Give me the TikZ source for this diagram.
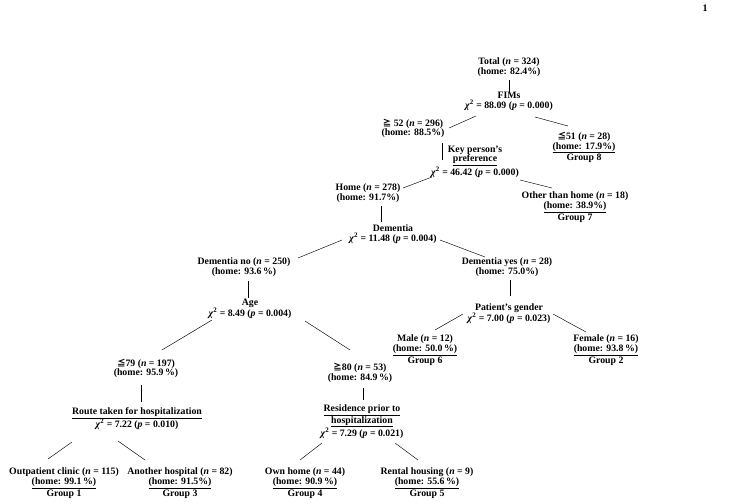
\documentclass[tikz,border=0pt]{standalone}
\usepackage{fontspec}
\setmainfont{Liberation Serif}
\newfontfamily\cjk{Noto Sans CJK JP}
\usetikzlibrary{calc}
\newcommand\myge{{\cjk\fontsize{8.5}{8.5}\selectfont ≧}}
\newcommand\myle{{\cjk\fontsize{8.5}{8.5}\selectfont ≦}}
\newcommand\chisq{\textit{χ}\textsuperscript{2}}
\newcommand\nn{\textit{n}}
\newcommand\pp{\textit{p}}
\tikzset{
  lab/.style={align=center, inner sep=0pt, font=\bfseries\fontsize{9.8}{9.8}\selectfont},
  edge/.style={line width=0.45pt, black}
}
\begin{document}
\begin{tikzpicture}[x=1pt,y=-1pt]
\useasboundingbox (0,0) rectangle (733,503);
\node[font=\bfseries\fontsize{10}{10}\selectfont, inner sep=0pt] (pg) at (705,8) {1};

\node[lab] (total) at (509,67.5) {Total (\nn{} = 324)\\(home: 82.4\%)};
\node[lab] (fims) at (509,101.5) {FIMs\\\chisq{} = 88.09 (\pp{} = 0.000)};
\node[lab] (n296) at (413,128.5) {\myge{} 52 (\nn{} = 296)\\(home: 88.5\%)};
\node[lab] (n28) at (584,147.5) {\myle51 (\nn{} = 28)\\\underline{(home: 17.9\%)}\\Group 8};
\node[lab] (key) at (475,161.5) {Key person's\\\underline{preference}\\\chisq{} = 46.42 (\pp{} = 0.000)};
\node[lab] (home278) at (368,193.5) {Home (\nn{} = 278)\\(home: 91.7\%)};
\node[lab] (other) at (575,207) {Other than home (\nn{} = 18)\\\underline{(home: 38.9\%)}\\Group 7};
\node[lab] (dementia) at (393,234) {Dementia\\\chisq{} = 11.48 (\pp{} = 0.004)};
\node[lab] (demno) at (244,267.5) {Dementia no (\nn{} = 250)\\(home: 93.6\,\%)};
\node[lab] (demyes) at (507,267) {Dementia yes (\nn{} = 28)\\(home: 75.0\%)};
\node[lab] (age) at (250,308.5) {Age\\\chisq{} = 8.49 (\pp{} = 0.004)};
\node[lab] (gender) at (509,313.5) {Patient's gender\\\chisq{} = 7.00 (\pp{} = 0.023)};
\node[lab] (male) at (425,350) {Male (\nn{} = 12)\\\underline{(home: 50.0\,\%)}\\Group 6};
\node[lab] (female) at (606,350) {Female (\nn{} = 16)\\\underline{(home: 93.8\,\%)}\\Group 2};
\node[lab] (le79) at (146,368.5) {\myle79 (\nn{} = 197)\\(home: 95.9\,\%)};
\node[lab] (ge80) at (360,373) {\myge80 (\nn{} = 53)\\(home: 84.9\,\%)};
\node[lab] (route) at (137,418.5) {\underline{Route taken for hospitalization}\\\chisq{} = 7.22 (\pp{} = 0.010)};
\node[lab] (residence) at (362,421.5) {\underline{Residence prior to}\\\underline{hospitalization}\\\chisq{} = 7.29 (\pp{} = 0.021)};
\node[lab] (outpatient) at (64,483) {Outpatient clinic (\nn{} = 115)\\\underline{(home: 99.1\,\%)}\\Group 1};
\node[lab] (another) at (180,483) {Another hospital (\nn{} = 82)\\\underline{(home: 91.5\%)}\\Group 3};
\node[lab] (ownhome) at (305,483) {Own home (\nn{} = 44)\\\underline{(home: 90.9\,\%)}\\Group 4};
\node[lab] (rental) at (427,483) {Rental housing (\nn{} = 9)\\\underline{(home: 55.6\,\%)}\\Group 5};

\draw[edge] ($(total)+(0,12.5)$) -- ($(fims)+(0,-9.5)$);
\draw[edge] ($(fims)+(-33,14.5)$) -- ($(n296)+(36,-0.5)$);
\draw[edge] ($(fims)+(26,15.5)$) -- ($(n28)+(-16,-21.5)$);
\draw[edge] ($(n296)+(29,14.5)$) -- ($(key)+(-33,-1.5)$);
\draw[edge] ($(key)+(-43,15.5)$) -- ($(home278)+(35,-5.5)$);
\draw[edge] ($(key)+(45,18.5)$) -- ($(other)+(-23,-19)$);
\draw[edge] ($(home278)+(13,12.5)$) -- ($(dementia)+(-12,-12)$);
\draw[edge] ($(dementia)+(-51,6)$) -- ($(demno)+(54,-9.5)$);
\draw[edge] ($(dementia)+(47,6)$) -- ($(demyes)+(-22,-10)$);
\draw[edge] ($(demno)+(4,13.5)$) -- ($(age)+(-2,-10.5)$);
\draw[edge] ($(demyes)+(3,13)$) -- ($(gender)+(1,-17.5)$);
\draw[edge] ($(gender)+(-46,0.5)$) -- ($(male)+(10,-20)$);
\draw[edge] ($(gender)+(44,0.5)$) -- ($(female)+(-20,-18)$);
\draw[edge] ($(age)+(-38,11.5)$) -- ($(le79)+(16,-18.5)$);
\draw[edge] ($(age)+(55,12.5)$) -- ($(ge80)+(-10,-23)$);
\draw[edge] ($(le79)+(-5,16.5)$) -- ($(route)+(4,-16.5)$);
\draw[edge] ($(ge80)+(3,15)$) -- ($(residence)+(1,-21.5)$);
\draw[edge] ($(route)+(-65,23.5)$) -- ($(outpatient)+(-16,-24)$);
\draw[edge] ($(route)+(-19,22.5)$) -- ($(another)+(-35,-23)$);
\draw[edge] ($(residence)+(-40,21.5)$) -- ($(ownhome)+(-5,-23)$);
\draw[edge] ($(residence)+(33,21.5)$) -- ($(rental)+(-9,-23)$);
\end{tikzpicture}
\end{document}
